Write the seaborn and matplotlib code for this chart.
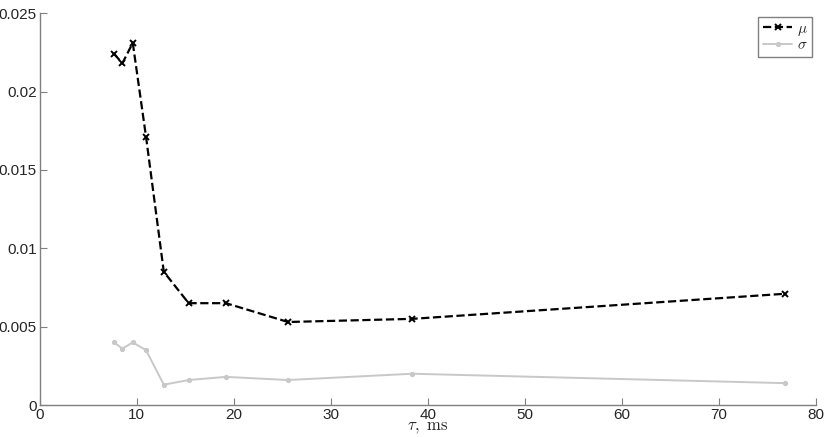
import numpy as np
import pandas as pd
import matplotlib
matplotlib.use('Agg')
import matplotlib.pyplot as plt
import seaborn as sns

# data
tau = [7.68, 8.53, 9.6, 10.97, 12.8, 15.36, 19.2, 25.6, 38.4, 76.8]
mu = [0.0224, 0.0218, 0.0231, 0.0171, 0.0085, 0.0065, 0.0065, 0.0053, 0.0055, 0.0071]
sigma = [0.0040, 0.0036, 0.0040, 0.0035, 0.0013, 0.0016, 0.0018, 0.0016, 0.0020, 0.0014]

x_ticks = [0, 10, 20, 30, 40, 50, 60, 70, 80]
y_ticks = [0, 0.005, 0.01, 0.015, 0.02, 0.025]
y_labels = ['0', '0.005', '0.01', '0.015', '0.02', '0.025']

sns.set_style('white')
plt.rcParams['font.family'] = ['Liberation Sans', 'DejaVu Sans']
plt.rcParams['mathtext.fontset'] = 'cm'

df = pd.DataFrame({'tau': tau, 'mu': mu, 'sigma': sigma})

fig = plt.figure(figsize=(8.25, 4.37), dpi=100)
ax = fig.add_axes([0.048, 0.073, 0.941, 0.897])

sns.lineplot(data=df, x='tau', y='mu', ax=ax, color='black', linestyle='--',
             linewidth=1.6, marker='x', markersize=5, markeredgewidth=1.4,
             markeredgecolor='black', label=r'$\mu$')
sns.lineplot(data=df, x='tau', y='sigma', ax=ax, color='#c8c8c8', linestyle='-',
             linewidth=1.4, marker='o', markersize=3, markeredgecolor='#c8c8c8',
             label=r'$\sigma$')

ax.set_xlim(0, 80)
ax.set_ylim(0, 0.025)
ax.set_xticks(x_ticks)
ax.set_xticklabels([str(t) for t in x_ticks])
ax.set_yticks(y_ticks)
ax.set_yticklabels(y_labels)
ax.tick_params(bottom=True, left=True, direction='in', length=5, width=0.8,
               color='#808080', labelsize=11, pad=2)
ax.set_xlabel(r'$\tau,\ \mathrm{ms}$', fontsize=12, labelpad=-1)
ax.set_ylabel('')

sns.despine(ax=ax)
for s in ['left', 'bottom']:
    ax.spines[s].set_color('#808080')
    ax.spines[s].set_linewidth(1.0)

leg = ax.legend(loc='upper right', bbox_to_anchor=(0.995, 0.99), fontsize=11,
                handlelength=1.9, handletextpad=0.3, borderpad=0.3,
                labelspacing=0.05, borderaxespad=0, fancybox=False, framealpha=1)
leg.get_frame().set_edgecolor('#808080')
leg.get_frame().set_linewidth(1.0)

fig.savefig('out.png', dpi=100)
